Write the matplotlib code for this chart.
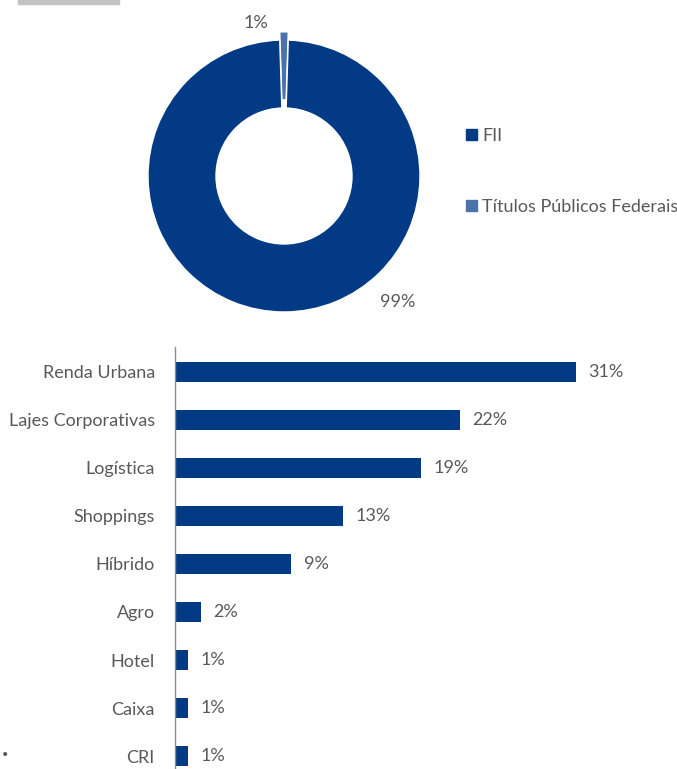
import matplotlib.pyplot as plt
from matplotlib.patches import Patch, Rectangle

plt.rcParams['font.family'] = ['Lato', 'DejaVu Sans']

# Alocação por tipo de ativo
ativos = ["FII", "Títulos Públicos Federais"]
pct_ativos = [99, 1]

# Alocação por segmento
segmentos = ["Renda Urbana", "Lajes Corporativas", "Logística", "Shoppings",
             "Híbrido", "Agro", "Hotel", "Caixa", "CRI"]
pct_segmentos = [31, 22, 19, 13, 9, 2, 1, 1, 1]

AZUL = '#033a85'
AZUL_CLARO = '#4c72aa'
CINZA = '#595959'
FS = 13

fig = plt.figure(figsize=(6.77, 7.69), dpi=100)

# Donut ------------------
ax1 = fig.add_axes([0.1684, 0.5501, 0.5022, 0.4421])
wedges, _ = ax1.pie(pct_ativos[::-1], colors=[AZUL_CLARO, AZUL], startangle=91.8,
                    counterclock=False, explode=[0.06, 0],
                    wedgeprops=dict(width=0.5, edgecolor='white', linewidth=1))
ax1.set_xlim(-1.25, 1.25)
ax1.set_ylim(-1.25, 1.25)
ax1.set_aspect('equal')
ax1.text(-0.206, 1.125, f"{pct_ativos[1]}%", ha='center', va='center',
         fontsize=FS, color=CINZA)
ax1.text(0.838, -0.93, f"{pct_ativos[0]}%", ha='center', va='center',
         fontsize=FS, color=CINZA)

handles = [Patch(color=AZUL), Patch(color=AZUL_CLARO)]
fig.legend(handles, ativos, loc='upper left', bbox_to_anchor=(466 / 677, 1 - 128 / 769),
           frameon=False, fontsize=FS, labelcolor=CINZA, borderpad=0,
           handlelength=0.6, handleheight=0.6, handletextpad=0.3,
           labelspacing=3.05, borderaxespad=0)

# Barras ------------------
ax2 = fig.add_axes([175 / 677, -0.0156, 485 / 677, 0.5644])
pos = range(len(segmentos))
ax2.barh(pos, pct_segmentos, height=0.42, color=AZUL)
ax2.set_ylim(len(segmentos) - 0.48, -0.52)
ax2.set_xlim(0, 37.5)
for i, v in enumerate(pct_segmentos):
    ax2.text(v + 0.95, i, f"{v}%", va='center', ha='left', fontsize=FS, color=CINZA)
ax2.set_yticks(list(pos))
ax2.set_yticklabels(segmentos, fontsize=FS, color=CINZA)
ax2.tick_params(axis='y', length=0, pad=14.5)
ax2.set_xticks([])
for s in ['top', 'right', 'bottom']:
    ax2.spines[s].set_visible(False)
ax2.spines['left'].set_color('#8c8c8c')
ax2.spines['left'].set_linewidth(1)

# detalhes
fig.add_artist(Rectangle((18 / 677, 1 - 4 / 769), 101 / 677, 4 / 769,
                         transform=fig.transFigure, color='#c3c3c3'))
fig.text(5 / 677, 1 - 755 / 769, '•', ha='center', va='center', fontsize=8, color='#555555')

fig.savefig('out.png', dpi=100)
